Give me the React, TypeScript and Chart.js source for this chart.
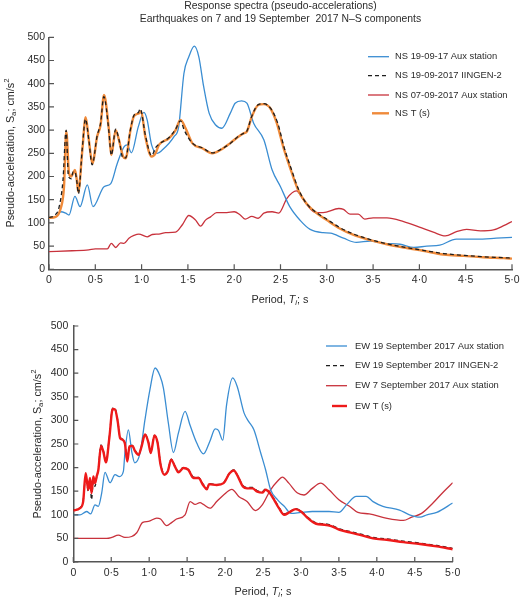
import { useEffect, useRef } from 'react';
import { Chart, registerables } from 'chart.js';

Chart.register(...registerables);

const FONT = "'Liberation Sans', Arial, Helvetica, sans-serif";
const INK = '#2b2b2b';
const AXIS = '#555555';

const BLUE = '#3a8dd2';
const ORANGE = '#ef8a3a';
const DARK_RED = '#c8323c';
const BRIGHT_RED = '#ee1a1a';
const DASH_BLACK = '#1e1e1e';

const TITLE_SIZE = 10.4;
const TICK_SIZE = 10.5;
const LEGEND_SIZE = 9.4;
const AXIS_TITLE_SIZE = 10.8;

// ---- N–S components, 7 and 19 September 2017 ----
const nsAuxT = [0, 0.07, 0.126, 0.18, 0.216, 0.28, 0.335, 0.414, 0.475, 0.594, 0.665, 0.737, 0.81, 0.845, 0.89, 0.964, 1.025, 1.06, 1.108, 1.17, 1.223, 1.35, 1.4, 1.457, 1.51, 1.57, 1.618, 1.67, 1.73, 1.8, 1.867, 1.957, 2.01, 2.08, 2.137, 2.21, 2.32, 2.41, 2.5, 2.6, 2.71, 2.82, 2.96, 3.04, 3.18, 3.32, 3.47, 3.61, 3.79, 3.94, 4.08, 4.22, 4.4, 4.62, 4.83, 5.0];
const nsAuxSa = [112, 113, 124, 121, 117, 157, 135, 182, 135, 178, 184, 228, 264, 268, 251, 307, 338, 322, 268, 250, 257, 286, 307, 422, 458, 481, 458, 394, 336, 311, 304, 336, 358, 363, 358, 315, 279, 214, 178, 135, 106, 86, 79, 78, 67, 58, 61, 56, 54, 47, 50, 52, 65, 65, 67, 69];

const nsIingenT = [0, 0.06, 0.11, 0.15, 0.185, 0.21, 0.24, 0.26, 0.28, 0.3, 0.318, 0.36, 0.394, 0.43, 0.466, 0.52, 0.557, 0.592, 0.61, 0.647, 0.673, 0.72, 0.755, 0.8, 0.827, 0.88, 0.92, 0.965, 0.985, 1.04, 1.108, 1.15, 1.19, 1.295, 1.367, 1.42, 1.46, 1.547, 1.655, 1.763, 1.85, 1.957, 2.047, 2.1, 2.137, 2.19, 2.26, 2.32, 2.4, 2.47, 2.54, 2.61, 2.7, 2.78, 2.89, 3.0, 3.14, 3.29, 3.47, 3.65, 3.83, 4.04, 4.26, 4.48, 4.69, 4.91, 5.0];
const nsIingenSa = [112, 116, 135, 190, 300, 200, 195, 210, 210, 190, 163, 262, 324, 279, 225, 288, 315, 372, 360, 296, 246, 302, 280, 240, 240, 302, 333, 338, 346, 290, 245, 262, 270, 284, 302, 320, 300, 272, 262, 251, 258, 271, 287, 293, 298, 330, 355, 357, 345, 315, 262, 220, 170, 142, 122, 108, 90, 76, 64, 55, 48, 41, 34, 30, 27, 25, 24];

const nsSep7T = [0, 0.25, 0.43, 0.5, 0.63, 0.673, 0.72, 0.773, 0.81, 0.863, 0.917, 0.97, 1.06, 1.115, 1.187, 1.26, 1.367, 1.44, 1.51, 1.583, 1.637, 1.69, 1.745, 1.81, 1.92, 2.0, 2.065, 2.12, 2.19, 2.26, 2.32, 2.41, 2.48, 2.57, 2.67, 2.75, 2.86, 2.96, 3.13, 3.18, 3.25, 3.34, 3.41, 3.5, 3.65, 3.83, 4.0, 4.15, 4.28, 4.4, 4.51, 4.66, 4.8, 4.91, 5.0];
const nsSep7Sa = [38, 40, 42, 44, 44, 56, 47, 57, 56, 67, 73, 76, 70, 75, 76, 79, 80, 96, 116, 106, 93, 106, 113, 122, 122, 124, 117, 108, 114, 110, 121, 124, 121, 153, 169, 149, 124, 122, 131, 129, 119, 119, 108, 111, 111, 103, 91, 80, 72, 81, 86, 83, 85, 94, 103];

const nsTT = [0, 0.072, 0.126, 0.162, 0.187, 0.216, 0.24, 0.26, 0.28, 0.3, 0.316, 0.36, 0.396, 0.43, 0.468, 0.52, 0.557, 0.594, 0.61, 0.647, 0.673, 0.72, 0.755, 0.8, 0.827, 0.88, 0.917, 0.97, 0.995, 1.04, 1.108, 1.15, 1.187, 1.295, 1.367, 1.42, 1.475, 1.547, 1.655, 1.763, 1.85, 1.957, 2.047, 2.1, 2.137, 2.19, 2.26, 2.32, 2.39, 2.46, 2.53, 2.6, 2.69, 2.78, 2.89, 3.0, 3.14, 3.29, 3.47, 3.65, 3.83, 4.04, 4.26, 4.48, 4.69, 4.91, 5.0];
const nsTSa = [111, 113, 131, 178, 297, 207, 200, 207, 214, 193, 167, 257, 328, 279, 228, 286, 311, 376, 365, 300, 246, 300, 279, 243, 239, 300, 330, 336, 340, 286, 243, 250, 268, 282, 300, 322, 304, 272, 261, 250, 257, 272, 286, 293, 297, 329, 354, 356, 347, 315, 264, 221, 171, 142, 121, 106, 88, 74, 63, 54, 47, 40, 32, 29, 26, 24, 23];

// ---- E–W components ----
const ewAuxT = [0, 0.088, 0.176, 0.229, 0.286, 0.33, 0.374, 0.418, 0.484, 0.55, 0.607, 0.66, 0.68, 0.726, 0.77, 0.81, 0.88, 0.945, 1.01, 1.077, 1.143, 1.187, 1.253, 1.32, 1.385, 1.473, 1.54, 1.627, 1.715, 1.8, 1.87, 1.913, 1.97, 2.02, 2.1, 2.16, 2.25, 2.31, 2.38, 2.47, 2.535, 2.6, 2.69, 2.78, 2.87, 3.0, 3.15, 3.37, 3.5, 3.6, 3.73, 3.86, 3.95, 4.08, 4.3, 4.43, 4.57, 4.66, 4.79, 5.0];
const ewAuxSa = [100, 100, 107, 102, 121, 118, 146, 190, 168, 185, 181, 192, 231, 280, 234, 210, 231, 302, 365, 411, 394, 369, 294, 232, 273, 319, 289, 252, 229, 256, 282, 279, 258, 333, 390, 372, 316, 298, 280, 231, 195, 153, 132, 118, 103, 105, 107, 107, 105, 121, 139, 139, 128, 118, 110, 100, 95, 100, 105, 125];

const ewTT = [0, 0.088, 0.13, 0.163, 0.198, 0.22, 0.24, 0.264, 0.286, 0.308, 0.33, 0.365, 0.396, 0.43, 0.475, 0.519, 0.55, 0.585, 0.616, 0.65, 0.68, 0.712, 0.74, 0.78, 0.81, 0.86, 0.9, 0.945, 0.99, 1.02, 1.07, 1.11, 1.15, 1.2, 1.245, 1.29, 1.34, 1.385, 1.45, 1.517, 1.583, 1.65, 1.71, 1.76, 1.79, 1.89, 1.98, 2.06, 2.115, 2.17, 2.235, 2.29, 2.36, 2.425, 2.49, 2.535, 2.59, 2.645, 2.71, 2.78, 2.845, 2.93, 3.0, 3.09, 3.2, 3.31, 3.4, 3.51, 3.64, 3.79, 3.95, 4.13, 4.35, 4.57, 4.79, 5.0];
const ewTSa = [109, 114, 128, 188, 153, 178, 146, 181, 167, 181, 195, 246, 234, 211, 263, 324, 323, 298, 263, 259, 251, 213, 245, 246, 236, 227, 245, 270, 253, 231, 268, 253, 206, 185, 192, 217, 202, 190, 199, 195, 178, 178, 163, 154, 165, 163, 167, 188, 194, 181, 160, 156, 156, 149, 147, 153, 146, 132, 114, 100, 105, 112, 107, 93, 81, 79, 76, 68, 63, 57, 50, 47, 42, 38, 33, 27];
const ewIingenSa = [110, 115, 130, 180, 150, 172, 132, 170, 160, 180, 198, 248, 236, 212, 265, 326, 325, 300, 265, 260, 252, 215, 246, 247, 238, 228, 246, 271, 254, 232, 268, 254, 208, 187, 193, 218, 203, 192, 200, 196, 180, 179, 165, 156, 166, 164, 168, 189, 195, 182, 162, 158, 158, 151, 149, 155, 147, 134, 116, 102, 106, 113, 108, 95, 83, 81, 78, 70, 65, 59, 52, 49, 44, 40, 35, 29];

const ewSep7T = [0, 0.44, 0.506, 0.594, 0.68, 0.77, 0.836, 0.915, 0.99, 1.1, 1.15, 1.23, 1.3, 1.36, 1.473, 1.54, 1.605, 1.67, 1.715, 1.8, 1.89, 1.98, 2.09, 2.18, 2.29, 2.4, 2.49, 2.6, 2.69, 2.756, 2.84, 2.955, 3.04, 3.15, 3.26, 3.37, 3.5, 3.64, 3.75, 3.9, 4.12, 4.35, 4.46, 4.59, 4.74, 4.88, 5.0];
const ewSep7Sa = [50, 50, 52, 57, 52, 54, 62, 84, 86, 93, 91, 77, 84, 91, 100, 128, 122, 126, 122, 114, 128, 142, 154, 139, 128, 109, 121, 153, 171, 180, 167, 146, 142, 156, 167, 153, 132, 118, 105, 102, 93, 88, 95, 103, 125, 149, 168];

const titleLines = ['Response spectra (pseudo-accelerations)', 'Earthquakes on 7 and 19 September  2017 N\u2013S components'];
const nsLabels = ['NS 19-09-17 Aux station', 'NS 19-09-2017 IINGEN-2', 'NS 07-09-2017 Aux station', 'NS T (s)'];
const ewLabels = ['EW 19 September 2017 Aux station', 'EW 19 September 2017 IINGEN-2', 'EW 7 September 2017 Aux station', 'EW T (s)'];

type Run = { text: string; italic?: boolean; shift?: 'sub' | 'sup' };
const yTitle: Run[] = [
  { text: 'Pseudo-acceleration, S' },
  { text: 'a', shift: 'sub' },
  { text: '; cm/s' },
  { text: '2', shift: 'sup' },
];
const xTitle: Run[] = [
  { text: 'Period, ' },
  { text: 'T', italic: true },
  { text: 'i', italic: true, shift: 'sub' },
  { text: '; s' },
];

function runFont(r: Run, size: number) {
  const s = r.shift ? size * 0.72 : size;
  return `${r.italic ? 'italic ' : ''}${s}px ${FONT}`;
}

function drawRuns(ctx: CanvasRenderingContext2D, runs: Run[], cx: number, cy: number, size: number, angle: number) {
  ctx.save();
  ctx.translate(cx, cy);
  ctx.rotate(angle);
  ctx.textBaseline = 'middle';
  ctx.textAlign = 'left';
  ctx.fillStyle = INK;
  const widths = runs.map((r) => {
    ctx.font = runFont(r, size);
    return ctx.measureText(r.text).width;
  });
  let x = -widths.reduce((a, b) => a + b, 0) / 2;
  runs.forEach((r, i) => {
    ctx.font = runFont(r, size);
    const dy = r.shift === 'sub' ? size * 0.3 : r.shift === 'sup' ? -size * 0.38 : 0;
    ctx.fillText(r.text, x, dy);
    x += widths[i];
  });
  ctx.restore();
}

type LegendItem = { label: string; color: string; width: number; dash: number[]; start: number };
type DecorOpts = {
  title?: string[];
  titleY?: number[];
  yTitlePos: [number, number];
  xTitlePos: [number, number];
  legend: LegendItem[];
  legendY: number[];
  legendEnd: number;
  legendText: number;
};

const decor = {
  id: 'decor',
  afterDraw(chart: Chart, _args: unknown, opts: DecorOpts) {
    const ctx = chart.ctx;
    const area = chart.chartArea;
    const xs = chart.scales.x;
    const ys = chart.scales.y;

    // inward tick marks
    ctx.save();
    ctx.strokeStyle = AXIS;
    ctx.lineWidth = 1.2;
    ctx.beginPath();
    xs.ticks.forEach((t) => {
      const px = xs.getPixelForValue(t.value);
      ctx.moveTo(px, area.bottom);
      ctx.lineTo(px, area.bottom - 5);
    });
    ys.ticks.forEach((t) => {
      const py = ys.getPixelForValue(t.value);
      ctx.moveTo(area.left, py);
      ctx.lineTo(area.left + 5, py);
    });
    ctx.stroke();
    ctx.restore();

    // heading
    if (opts.title && opts.titleY) {
      ctx.save();
      ctx.fillStyle = INK;
      ctx.font = `${TITLE_SIZE}px ${FONT}`;
      ctx.textAlign = 'center';
      ctx.textBaseline = 'middle';
      const cx = (area.left + area.right) / 2;
      opts.title.forEach((line, i) => ctx.fillText(line, cx, opts.titleY![i]));
      ctx.restore();
    }

    // axis titles
    drawRuns(ctx, yTitle, opts.yTitlePos[0], opts.yTitlePos[1], AXIS_TITLE_SIZE, -Math.PI / 2);
    drawRuns(ctx, xTitle, opts.xTitlePos[0], opts.xTitlePos[1], AXIS_TITLE_SIZE, 0);

    // legend
    ctx.save();
    opts.legend.forEach((item, i) => {
      const y = opts.legendY[i];
      ctx.strokeStyle = item.color;
      ctx.lineWidth = item.width;
      ctx.setLineDash(item.dash);
      ctx.beginPath();
      ctx.moveTo(item.start, y);
      ctx.lineTo(opts.legendEnd, y);
      ctx.stroke();
      ctx.setLineDash([]);
      ctx.fillStyle = INK;
      ctx.font = `${LEGEND_SIZE}px ${FONT}`;
      ctx.textAlign = 'left';
      ctx.textBaseline = 'middle';
      ctx.fillText(item.label, opts.legendText, y);
    });
    ctx.restore();
  },
};

function series(t: number[], sa: number[], color: string, width: number, order: number, dash: number[] = []) {
  return {
    data: t.map((x, i) => ({ x, y: sa[i] })),
    borderColor: color,
    borderWidth: width,
    borderDash: dash,
    cubicInterpolationMode: 'monotone' as const,
    pointRadius: 0,
    fill: false,
    order,
  };
}

function periodLabel(v: number | string) {
  const n = Number(v);
  if (Math.abs(n) < 1e-9) return '0';
  return n.toFixed(1).replace('.', '\u00b7');
}

function makeConfig(datasets: any[], padding: any, decorOpts: DecorOpts, xPad: number, yPad: number): any {
  return {
    type: 'line',
    data: { datasets },
    options: {
      responsive: false,
      animation: false,
      devicePixelRatio: 1,
      layout: { padding },
      plugins: {
        legend: { display: false },
        tooltip: { enabled: false },
        decor: decorOpts,
      },
      scales: {
        x: {
          type: 'linear',
          min: 0,
          max: 5,
          grid: { display: false, drawTicks: false },
          border: { display: true, color: AXIS, width: 1.5 },
          ticks: {
            stepSize: 0.5,
            autoSkip: false,
            maxRotation: 0,
            padding: xPad,
            color: INK,
            font: { family: FONT, size: TICK_SIZE },
            callback: periodLabel,
          },
          afterFit: (s: any) => {
            s.height = 20;
            s.paddingLeft = 0;
            s.paddingRight = 0;
          },
        },
        y: {
          type: 'linear',
          min: 0,
          max: 500,
          grid: { display: false, drawTicks: false },
          border: { display: true, color: AXIS, width: 1.5 },
          ticks: {
            stepSize: 50,
            autoSkip: false,
            padding: yPad,
            color: INK,
            font: { family: FONT, size: TICK_SIZE },
          },
          afterFit: (s: any) => {
            s.width = 40;
            s.paddingTop = 0;
            s.paddingBottom = 0;
          },
        },
      },
    },
    plugins: [decor],
  };
}

export default function App() {
  const topRef = useRef<HTMLCanvasElement>(null);
  const bottomRef = useRef<HTMLCanvasElement>(null);

  useEffect(() => {
    const top = new Chart(
      topRef.current!,
      makeConfig(
        [
          series(nsIingenT, nsIingenSa, DASH_BLACK, 1.3, 0, [4, 3]),
          series(nsTT, nsTSa, ORANGE, 2.4, 1),
          series(nsAuxT, nsAuxSa, BLUE, 1.3, 2),
          series(nsSep7T, nsSep7Sa, DARK_RED, 1.3, 3),
        ],
        { left: 9, right: 8, top: 37.3, bottom: 15.7 },
        {
          title: titleLines,
          titleY: [6.5, 19.5],
          yTitlePos: [11, 153],
          xTitlePos: [280, 300],
          legend: [
            { label: nsLabels[0], color: BLUE, width: 1.3, dash: [], start: 368 },
            { label: nsLabels[1], color: DASH_BLACK, width: 1.3, dash: [4, 3], start: 368 },
            { label: nsLabels[2], color: DARK_RED, width: 1.3, dash: [], start: 368 },
            { label: nsLabels[3], color: ORANGE, width: 2.4, dash: [], start: 372 },
          ],
          legendY: [56.7, 75.7, 95, 113.3],
          legendEnd: 389,
          legendText: 395,
        },
        5,
        4
      )
    );
    const bottom = new Chart(
      bottomRef.current!,
      makeConfig(
        [
          series(ewTT, ewIingenSa, DASH_BLACK, 1.3, 1, [4, 3]),
          series(ewTT, ewTSa, BRIGHT_RED, 2.4, 0),
          series(ewAuxT, ewAuxSa, BLUE, 1.3, 2),
          series(ewSep7T, ewSep7Sa, DARK_RED, 1.3, 3),
        ],
        { left: 33.3, right: 67.3, top: 21, bottom: 19 },
        {
          yTitlePos: [38, 139],
          xTitlePos: [263, 287],
          legend: [
            { label: ewLabels[0], color: BLUE, width: 1.3, dash: [], start: 326 },
            { label: ewLabels[1], color: DASH_BLACK, width: 1.3, dash: [4, 3], start: 326 },
            { label: ewLabels[2], color: DARK_RED, width: 1.3, dash: [], start: 326 },
            { label: ewLabels[3], color: BRIGHT_RED, width: 2.4, dash: [], start: 332 },
          ],
          legendY: [41, 60.7, 80.7, 101],
          legendEnd: 347,
          legendText: 355,
        },
        4.5,
        5
      )
    );
    return () => {
      top.destroy();
      bottom.destroy();
    };
  }, []);

  return (
    <div style={{ position: 'absolute', left: 0, top: 0, width: 520, height: 601, background: '#fff' }}>
      <canvas ref={topRef} width={520} height={305} style={{ position: 'absolute', left: 0, top: 0 }} />
      <canvas ref={bottomRef} width={520} height={296} style={{ position: 'absolute', left: 0, top: 305 }} />
    </div>
  );
}
